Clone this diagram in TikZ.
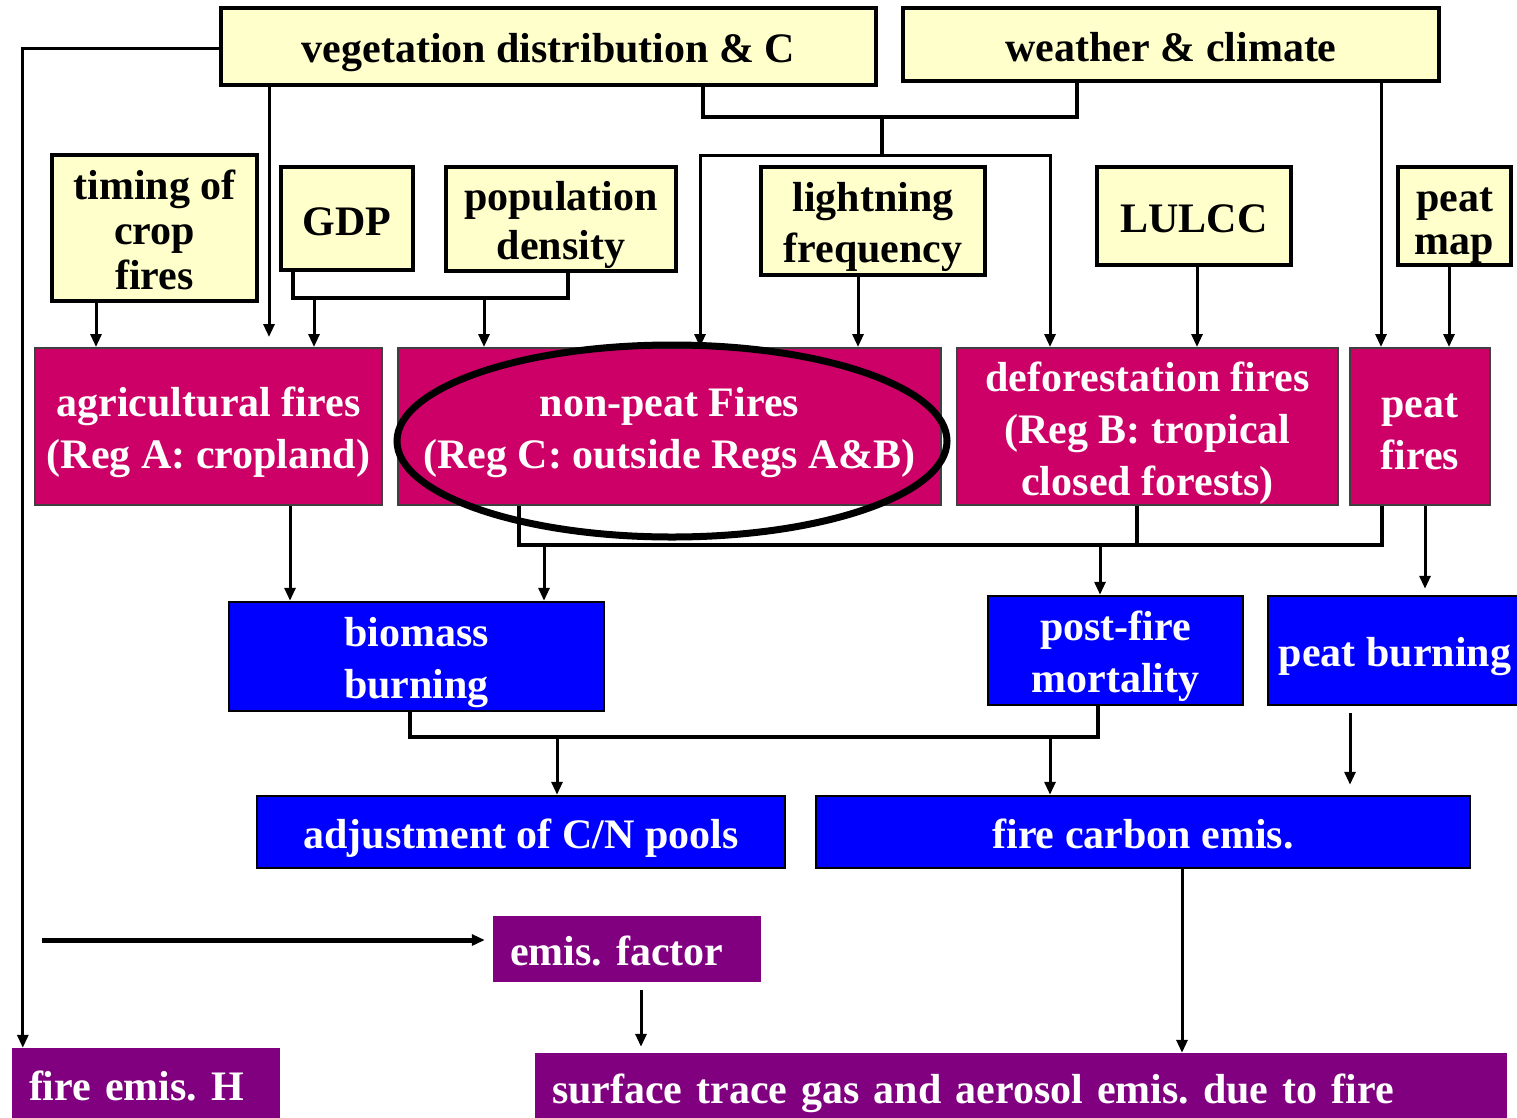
\documentclass[tikz,border=0pt]{standalone}
\usepackage{fontspec}
\setmainfont{Liberation Serif}
\usetikzlibrary{arrows.meta}
\definecolor{inYellow}{HTML}{FFFFCC}
\definecolor{fireRed}{HTML}{CC0066}
\definecolor{procBlue}{HTML}{0000FF}
\definecolor{emisPurple}{HTML}{800080}
% struts, so every box centres its lines the same way
\newcommand{\boxtop}{\rule{0pt}{42pt}}
\newcommand{\boxbot}{\rule[-9pt]{0pt}{9pt}}
\tikzset{
  box/.style     = {rectangle, inner sep=0pt, align=center,
                    font=\bfseries\frenchspacing\fontsize{42}{52}\selectfont},
  inbox/.style   = {box, draw=black, line width=3.5pt, fill=inYellow},
  firebox/.style = {box, draw=black!75, line width=2pt, fill=fireRed, text=white},
  procbox/.style = {box, draw=black, line width=2.5pt, fill=procBlue, text=white},
  emisbox/.style = {box, fill=emisPurple, text=white, align=left, inner xsep=17pt},
  link/.style    = {line width=3pt},
  bus/.style     = {line width=4.5pt},
  arr/.style     = {link, -{Triangle[length=13pt,width=11pt]}},
}

\begin{document}
\begin{tikzpicture}[x=1pt, y=-1pt]
\useasboundingbox (0,0) rectangle (1517,1117);

% ===================== inputs ==========================
\node[inbox, minimum width=655pt, minimum height=77pt] (veg) at (548.5,46.5)
  {\boxtop vegetation distribution \& C\boxbot};
\node[inbox, minimum width=536pt, minimum height=73pt] (weather) at (1171,44.5)
  {\boxtop weather \& climate\boxbot};
\node[inbox, minimum width=205pt, minimum height=146pt,
      font=\bfseries\fontsize{42}{45}\selectfont] (timing) at (154.5,228)
  {\boxtop timing of\\crop\\fires\boxbot};
\node[inbox, minimum width=132pt, minimum height=103pt] (gdp) at (347,218.5)
  {\boxtop GDP\boxbot};
\node[inbox, minimum width=230pt, minimum height=104pt,
      font=\bfseries\fontsize{42}{49}\selectfont] (popden) at (561,219)
  {\boxtop population\\density\boxbot};
\node[inbox, minimum width=224pt, minimum height=108pt,
      font=\bfseries\fontsize{42}{51}\selectfont] (lightning) at (873,221)
  {\boxtop lightning\\frequency\boxbot};
\node[inbox, minimum width=194pt, minimum height=98pt] (lulcc) at (1194,216)
  {\boxtop LULCC\boxbot};
\node[inbox, minimum width=113pt, minimum height=98pt,
      font=\bfseries\fontsize{42}{43}\selectfont] (peatmap) at (1454.5,216)
  {\boxtop peat\\map\boxbot};

% ===================== fire regions ==========================
\node[firebox, minimum width=347pt, minimum height=157pt] (agri) at (208.5,426.5)
  {\boxtop agricultural fires\\(Reg A: cropland)\boxbot};
\node[firebox, minimum width=543pt, minimum height=157pt] (nonpeat) at (669.5,426.5)
  {\boxtop non-peat Fires\\(Reg C: outside Regs A\&B)\boxbot};
\node[firebox, minimum width=381pt, minimum height=157pt] (defor) at (1147.5,426.5)
  {\boxtop deforestation fires\\(Reg B: tropical\\closed forests)\boxbot};
\node[firebox, minimum width=140pt, minimum height=157pt] (peatfire) at (1420,426.5)
  {\boxtop peat\\fires\boxbot};
\draw[line width=7pt] (672,441) ellipse [x radius=275, y radius=96];

% ===================== processes ==========================
\node[procbox, minimum width=375pt, minimum height=109pt] (biomass) at (416.5,656.5)
  {\boxtop biomass\\burning\boxbot};
\node[procbox, minimum width=255pt, minimum height=109pt] (postfire) at (1115.5,650.5)
  {\boxtop post-fire\\mortality\boxbot};
\node[procbox, minimum width=254pt, minimum height=109pt] (peatburn) at (1395,650.5)
  {\boxtop peat burning\boxbot};
\node[procbox, minimum width=528pt, minimum height=72pt] (adjust) at (521,832)
  {\boxtop adjustment of C/N pools\boxbot};
\node[procbox, minimum width=654pt, minimum height=72pt] (fcarbon) at (1143,832)
  {\boxtop fire carbon emis.\boxbot};

% ===================== emissions ==========================
\node[emisbox, text width=234pt, minimum height=66pt] (emisf) at (627,949)
  {\boxtop emis. factor\boxbot};
\node[emisbox, text width=234pt, minimum height=72pt] (fireH) at (146,1084)
  {\boxtop fire emis. H\boxbot};
\node[emisbox, text width=938pt, minimum height=69pt] (surface) at (1021,1087.5)
  {\boxtop surface trace gas and aerosol emis. due to fire\boxbot};

% ===================== connectors ==========================
\coordinate (vwbus) at (0,117);
\coordinate (firebus) at (0,155);
\coordinate (popbus) at (0,298);
\coordinate (regbus) at (0,545);
\coordinate (burnbus) at (0,737);
\coordinate (efin) at (42,940);

\draw[arr] (veg.west |- 0,48) -| ([xshift=11pt]fireH.north west);
\draw[arr, shorten >=10pt] (veg.south -| 269,0) -- (agri.north -| 269,0);
\draw[arr] (timing.south -| 96,0) -- (agri.north -| 96,0);

\draw[bus] (gdp.south -| 293,0) |- (popbus -| 568,0) -- (popden.south -| 568,0);
\draw[arr] (popbus -| 314,0) -- (agri.north -| 314,0);
\draw[arr] (popbus -| 484,0) -- (nonpeat.north -| 484,0);

\draw[bus] (veg.south -| 703,0) |- (vwbus -| 1077,0) -- (weather.south -| 1077,0);
\draw[bus] (vwbus -| 882,0) -- (firebus -| 882,0);
\draw[arr] (firebus -| 882,0) -| (nonpeat.north -| 700,0);
\draw[arr] (firebus -| 882,0) -| (defor.north -| 1050,0);
\draw[arr] (lightning.south -| 858,0) -- (nonpeat.north -| 858,0);
\draw[arr] (lulcc.south -| 1197,0) -- (defor.north -| 1197,0);
\draw[arr] (weather.south -| 1381,0) -- (peatfire.north -| 1381,0);
\draw[arr] (peatmap.south -| 1449,0) -- (peatfire.north -| 1449,0);

\draw[arr] (agri.south -| 290,0) -- (biomass.north -| 290,0);
\draw[bus] (nonpeat.south -| 519,0) |- (regbus -| 1382,0) -- (peatfire.south -| 1382,0);
\draw[bus] (defor.south -| 1137,0) -- (regbus -| 1137,0);
\draw[arr] (regbus -| 544,0) -- (biomass.north -| 544,0);
\draw[arr] (regbus -| 1100,0) -- (postfire.north -| 1100,0);
\draw[arr, shorten >=6pt] (peatfire.south -| 1425,0) -- (peatburn.north -| 1425,0);

\draw[bus] (biomass.south -| 410,0) |- (burnbus -| 1098,0) -- (postfire.south -| 1098,0);
\draw[arr] (burnbus -| 557,0) -- (adjust.north -| 557,0);
\draw[arr] (burnbus -| 1050,0) -- (fcarbon.north -| 1050,0);
\draw[arr, shorten <=7pt, shorten >=10pt] (peatburn.south -| 1350,0) -- (fcarbon.north -| 1350,0);

\draw[arr] (fcarbon.south -| 1182,0) -- (surface.north -| 1182,0);
\draw[arr, line width=5pt, shorten >=8pt] (efin) -- (emisf.west |- efin);
\draw[arr, shorten <=8pt, shorten >=6pt] (emisf.south -| 641,0) -- (surface.north -| 641,0);

\end{tikzpicture}
\end{document}
